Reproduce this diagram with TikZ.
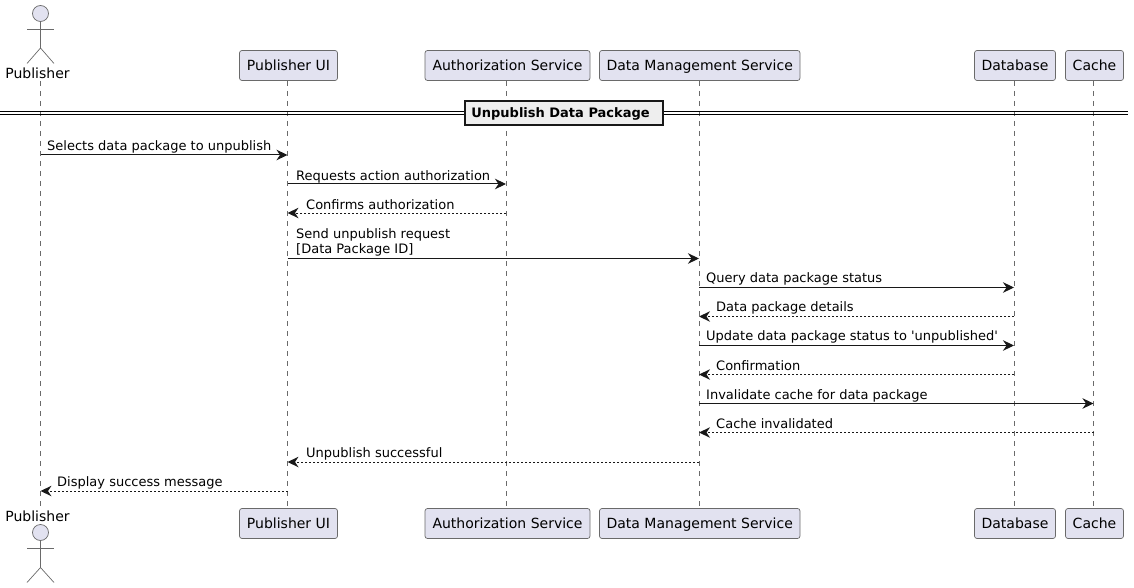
\documentclass[tikz,border=0pt]{standalone}
\usepackage{fontspec}
\setmainfont{DejaVu Sans}
\newfontfamily\plainfont{DejaVu Sans}
\usetikzlibrary{arrows.meta}
\definecolor{partfill}{HTML}{E2E2F0}
\definecolor{partline}{HTML}{181818}
\definecolor{softline}{HTML}{6A6A6A}
\definecolor{sepfill}{HTML}{EEEEEE}
\tikzset{
  part/.style={draw=softline,fill=partfill,line width=0.7pt,rounded corners=2.5pt,inner sep=0pt,font=\fontsize{14}{16}\selectfont,text=black,text height=11.5pt,text depth=2pt},
  lifeline/.style={draw=softline,line width=0.6pt,dash pattern=on 5pt off 5pt},
  actorline/.style={draw=softline,line width=0.7pt},
  msgsolid/.style={draw=partline,line width=1pt,-{Stealth[length=11pt,width=10.5pt,inset=3.5pt]}},
  msgdash/.style={draw=partline,line width=0.8pt,dash pattern=on 2pt off 2pt,-{Stealth[length=11pt,width=10.5pt,inset=3.5pt,line width=0pt]}},
  msgtext/.style={anchor=base west,inner sep=0pt,font=\fontsize{13}{15}\selectfont,text=black,align=left},
  actorlabel/.style={inner sep=0pt,font=\fontsize{14}{16}\selectfont,text=black}
}
\newcommand{\partbox}[6]{% name, x0, x1, y0, y1, text
  \node[part,minimum width=#3pt-#2pt,minimum height=#5pt-#4pt] (#1) at ({(#2+#3)/2},{(#4+#5)/2}) {#6};}
\begin{document}
\begin{tikzpicture}[x=1pt,y=-1pt]
\useasboundingbox (0,0) rectangle (1134,588);
% lifeline end points
\foreach \n/\x in {pub/40.5,ui/287.5,auth/506,dms/699,db/1014,cache/1093.5}{
  \coordinate (\n T) at (\x,81);
  \coordinate (\n B) at (\x,508.5);
  \draw[lifeline] (\n T) -- (\n B);
}
% top participants
\partbox{uiTop}{239.5}{337.5}{50.5}{80.5}{Publisher UI}
\partbox{authTop}{425}{590}{50.5}{80.5}{Authorization Service}
\partbox{dmsTop}{599.5}{800}{50.5}{80.5}{Data Management Service}
\partbox{dbTop}{974.5}{1055.5}{50.5}{80.5}{Database}
\partbox{cacheTop}{1065.5}{1123.5}{50.5}{80.5}{Cache}
% bottom participants
\partbox{uiBot}{239.5}{337.5}{508.5}{538.5}{Publisher UI}
\partbox{authBot}{425}{590}{508.5}{538.5}{Authorization Service}
\partbox{dmsBot}{599.5}{800}{508.5}{538.5}{Data Management Service}
\partbox{dbBot}{974.5}{1055.5}{508.5}{538.5}{Database}
\partbox{cacheBot}{1065.5}{1123.5}{508.5}{538.5}{Cache}
% actors
\node[draw=softline,fill=partfill,line width=0.7pt,circle,minimum size=16pt,inner sep=0pt] (headTop) at (40.5,13.5) {};
\draw[actorline] (headTop.south) -- (40.5,48) coordinate (hipT);
\draw[actorline] (27,29.5) -- (54,29.5);
\draw[actorline] (27,63.5) -- (hipT) -- (54,63.5);
\node[actorlabel] (labTop) at (37.5,73) {Publisher};
\node[draw=softline,fill=partfill,line width=0.7pt,circle,minimum size=16pt,inner sep=0pt] (headBot) at (40.5,532.5) {};
\draw[actorline] (headBot.south) -- (40.5,567.5) coordinate (hipB);
\draw[actorline] (27,548.5) -- (54,548.5);
\draw[actorline] (27,582.5) -- (hipB) -- (54,582.5);
\node[actorlabel] (labBot) at (37.5,516) {Publisher};
% separator
\coordinate (sepL1) at (0,111.5); \coordinate (sepR1) at (1128,111.5);
\coordinate (sepL2) at (0,114.5); \coordinate (sepR2) at (1128,114.5);
\draw[line width=1pt,black] (sepL1) -- (sepR1);
\draw[line width=1pt,black] (sepL2) -- (sepR2);
\node[draw=partline,fill=sepfill,line width=1.6pt,minimum width=197.5pt,minimum height=23.5pt,inner sep=0pt,font=\bfseries\fontsize{13}{15}\selectfont,text=black,text height=11pt,text depth=2pt] (sep) at (564,113) {\hspace*{-7pt}Unpublish Data Package};
% messages
\draw[msgsolid] (pubT |- 0,155) -- (uiT |- 0,155);
\node[msgtext] (m1) at (47,151) {Selects data package to unpublish};
\draw[msgsolid] (uiT |- 0,184) -- (authT |- 0,184);
\node[msgtext] (m2) at (296,180) {Requests action authorization};
\draw[msgdash] (authT |- 0,213) -- (uiT |- 0,213);
\node[msgtext] (m3) at (306,209) {Confirms authorization};
\draw[msgsolid] (uiT |- 0,258.5) -- (dmsT |- 0,258.5);
\node[msgtext] (m4a) at (296,238) {Send unpublish request};
\node[msgtext] (m4b) at (296,253) {[Data Package ID]};
\draw[msgsolid] (dmsT |- 0,287.5) -- (dbT |- 0,287.5);
\node[msgtext] (m5) at (706,282.5) {Query data package status};
\draw[msgdash] (dbT |- 0,316.5) -- (dmsT |- 0,316.5);
\node[msgtext] (m6) at (716,311) {Data package details};
\draw[msgsolid] (dmsT |- 0,345.5) -- (dbT |- 0,345.5);
\node[msgtext] (m7) at (706,340) {{\plainfont Update data package status to 'unpublished'}};
\draw[msgdash] (dbT |- 0,374.5) -- (dmsT |- 0,374.5);
\node[msgtext] (m8) at (716,370) {Confirmation};
\draw[msgsolid] (dmsT |- 0,403.5) -- (cacheT |- 0,403.5);
\node[msgtext] (m9) at (706,399.5) {Invalidate cache for data package};
\draw[msgdash] (cacheT |- 0,432.5) -- (dmsT |- 0,432.5);
\node[msgtext] (m10) at (716,428) {Cache invalidated};
\draw[msgdash] (dmsT |- 0,462) -- (uiT |- 0,462);
\node[msgtext] (m11) at (306,457) {Unpublish successful};
\draw[msgdash] (uiT |- 0,491) -- (pubT |- 0,491);
\node[msgtext] (m12) at (57,486) {Display success message};
\end{tikzpicture}
\end{document}
